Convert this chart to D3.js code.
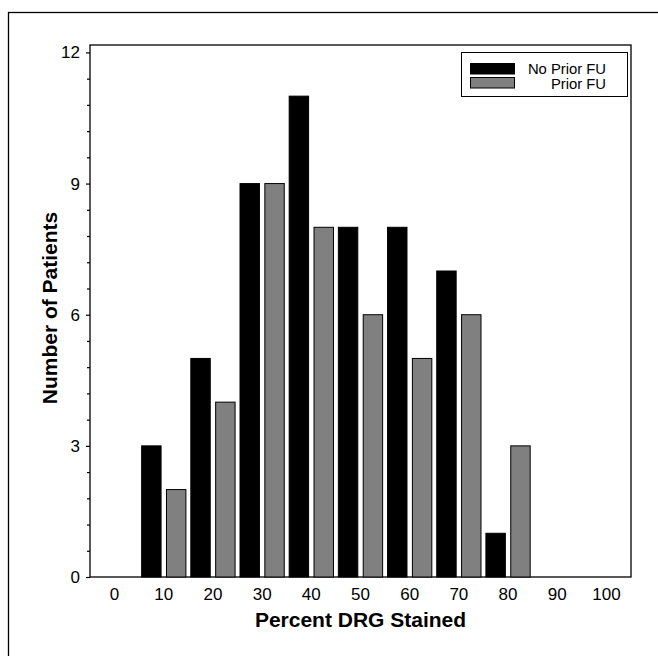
<!DOCTYPE html>
<html>
<head>
<meta charset="utf-8">
<script src="https://cdn.jsdelivr.net/npm/d3@7"></script>
<style>
  body { margin: 0; background: #fff; }
  text { font-family: "Liberation Sans", Arial, Helvetica, sans-serif; }
</style>
</head>
<body>
<div id="viz"></div>
<script>
// data
const categories = [10, 20, 30, 40, 50, 60, 70, 80];
const noPriorFU = [3, 5, 9, 11, 8, 8, 7, 1];
const priorFU = [2, 4, 9, 8, 6, 5, 6, 3];
const xTicks = [0, 10, 20, 30, 40, 50, 60, 70, 80, 90, 100];
const yTicks = [0, 3, 6, 9, 12];
const seriesNames = ['No Prior FU', 'Prior FU'];
const seriesColors = ['#000000', '#808080'];

const W = 658, H = 656;
const margin = {left: 90, right: 27, top: 45, bottom: 79};

const svg = d3.select('#viz').append('svg')
    .attr('width', W)
    .attr('height', H);

// outer frame (cut off on right / bottom)
svg.append('rect')
    .attr('x', 8.5).attr('y', 12.5)
    .attr('width', W + 10).attr('height', H + 10)
    .attr('fill', 'none')
    .attr('stroke', '#000')
    .attr('stroke-width', 1.3);

let x = d3.scaleLinear()
    .domain([-5, 105])
    .range([margin.left, W - margin.right]);

let y = d3.scaleLinear()
    .domain([0, 12.17])
    .range([H - margin.bottom, margin.top]);

// plot box
svg.append('rect')
    .attr('x', x(-5)).attr('y', y(12.17))
    .attr('width', x(105) - x(-5))
    .attr('height', y(0) - y(12.17))
    .attr('fill', 'none')
    .attr('stroke', '#000')
    .attr('stroke-width', 1.3);

// bars
const groups = [noPriorFU, priorFU];
groups.forEach((vals, s) => {
    svg.selectAll('.bar' + s)
        .data(vals)
        .enter()
        .append('rect')
        .attr('class', 'bar' + s)
        .attr('x', (d, i) => s == 0 ? x(categories[i] - 4.5) : x(categories[i] + 0.55))
        .attr('y', d => y(d))
        .attr('width', x(3.95) - x(0))
        .attr('height', d => y(0) - y(d))
        .attr('fill', seriesColors[s])
        .attr('stroke', '#000')
        .attr('stroke-width', 1);
});

// y axis: major + minor ticks
let yAxis = d3.axisLeft(y)
    .tickValues(yTicks)
    .tickSize(4)
    .tickPadding(6)
    .tickFormat(d3.format('d'));

let minor = d3.range(0, 12.01, 0.6).filter(v => Math.abs(v / 3 - Math.round(v / 3)) > 1e-6);
svg.append('g')
    .attr('transform', `translate(${margin.left},0)`)
    .call(d3.axisLeft(y).tickValues(minor).tickSize(3).tickFormat(''))
    .call(g => g.select('.domain').remove())
    .selectAll('line').attr('stroke-width', 1.2);

svg.append('g')
    .attr('transform', `translate(${margin.left},0)`)
    .call(yAxis)
    .call(g => g.select('.domain').remove())
    .call(g => g.selectAll('line').attr('stroke-width', 1.2))
    .call(g => g.selectAll('text')
        .attr('font-size', 17)
        .attr('fill', '#000')
        .style('font-family', '"Liberation Sans", Arial, sans-serif'));

// x tick labels (no tick marks)
svg.selectAll('.xlab')
    .data(xTicks)
    .enter()
    .append('text')
    .attr('class', 'xlab')
    .attr('x', d => x(d))
    .attr('y', 599.5)
    .attr('text-anchor', 'middle')
    .attr('font-size', 17)
    .text(d => d);

// axis titles
svg.append('text')
    .attr('x', (x(-5) + x(105)) / 2)
    .attr('y', 627)
    .attr('text-anchor', 'middle')
    .attr('font-size', 21)
    .attr('font-weight', 'bold')
    .text('Percent DRG Stained');

svg.append('text')
    .attr('transform', `translate(57,${(y(0) + y(12.17)) / 2 - 3}) rotate(-90)`)
    .attr('text-anchor', 'middle')
    .attr('font-size', 21)
    .attr('font-weight', 'bold')
    .text('Number of Patients');

// legend
let lg = svg.append('g');
lg.append('rect')
    .attr('x', 461.5).attr('y', 52.5)
    .attr('width', 166).attr('height', 44)
    .attr('fill', '#fff')
    .attr('stroke', '#000')
    .attr('stroke-width', 1);

seriesNames.forEach((name, i) => {
    lg.append('rect')
        .attr('x', 470.5).attr('y', 63.5 + i * 14)
        .attr('width', 44).attr('height', 10.5)
        .attr('fill', seriesColors[i])
        .attr('stroke', '#000')
        .attr('stroke-width', 1);
    lg.append('text')
        .attr('x', 606)
        .attr('y', 74 + i * 15)
        .attr('text-anchor', 'end')
        .attr('font-size', 14.8)
        .text(name);
});
</script>
</body>
</html>
